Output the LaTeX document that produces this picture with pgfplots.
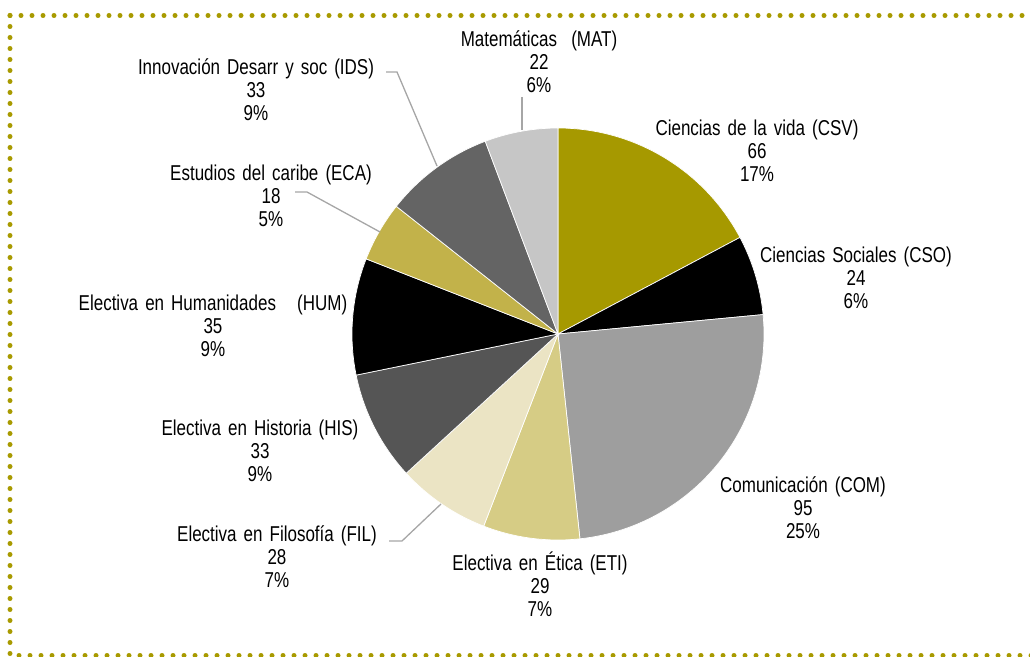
\documentclass[border=0pt]{standalone}
\usepackage{fontspec}
\setmainfont{Liberation Sans}[FakeStretch=0.79, WordSpace=1.5]
\usepackage{pgfplots}
\pgfplotsset{compat=1.18}

\definecolor{c0}{HTML}{A69900}
\definecolor{c1}{HTML}{000000}
\definecolor{c2}{HTML}{9E9E9E}
\definecolor{c3}{HTML}{D6CC85}
\definecolor{c4}{HTML}{EBE4C4}
\definecolor{c5}{HTML}{555555}
\definecolor{c6}{HTML}{000000}
\definecolor{c7}{HTML}{C2B24A}
\definecolor{c8}{HTML}{646464}
\definecolor{c9}{HTML}{C6C6C6}
\definecolor{frame}{HTML}{A89A00}
\definecolor{leader}{HTML}{A6A6A6}

% values: CSV, CSO, COM, ETI, FIL, HIS, HUM, ECA, IDS, MAT
\def\vals{66,24,95,29,28,33,35,18,33,22}
\gdef\total{0}%
\foreach \v in \vals {\pgfmathsetmacro\newt{\total+\v}\global\let\total\newt}%
\pgfmathsetmacro\degper{360/\total}%
\gdef\cum{0}%
\foreach \v [count=\i from 0] in \vals {%
  \pgfmathsetmacro\sa{90-\cum*\degper}%
  \pgfmathsetmacro\newc{\cum+\v}%
  \pgfmathsetmacro\ea{90-\newc*\degper}%
  \expandafter\xdef\csname sa\i\endcsname{\sa}%
  \expandafter\xdef\csname ea\i\endcsname{\ea}%
  \global\let\cum\newc
}%

\begin{document}%
\begin{tikzpicture}
\path[use as bounding box] (0,0) rectangle (1030pt,656pt);
\begin{axis}[
  at={(0,0)}, anchor=south west,
  width=1030pt, height=656pt, scale only axis,
  xmin=0, xmax=1030, ymin=0, ymax=656,
  hide axis, clip=false,
]
\pgfplotsinvokeforeach{0,...,9}{
  \addplot[fill=c#1, draw=white, line width=0.7pt, domain=0:1, samples=60]
    ({558+206*cos(\csname sa#1\endcsname+(\csname ea#1\endcsname-\csname sa#1\endcsname)*x)},
     {322+206*sin(\csname sa#1\endcsname+(\csname ea#1\endcsname-\csname sa#1\endcsname)*x)})
    -- (axis cs:558,322) -- cycle;
}
% leader lines
\draw[leader, line width=1.3pt] (axis cs:386,584) -- (axis cs:397,584) -- (axis cs:437,490);
\draw[leader, line width=1.3pt] (axis cs:522,559) -- (axis cs:522,526);
\draw[leader, line width=1.3pt] (axis cs:295,464) -- (axis cs:307,464) -- (axis cs:380,424);
\draw[leader, line width=1.3pt] (axis cs:389,115) -- (axis cs:402,115) -- (axis cs:441,152);
% labels
\tikzset{lab/.style={align=center, anchor=center, inner sep=0pt, font=\fontsize{21.5}{23}\selectfont}}
\node[lab] at (axis cs:539,594) {Matemáticas\ \ (MAT)\\22\\6\%};
\node[lab] at (axis cs:757,505) {Ciencias de la vida (CSV)\\66\\17\%};
\node[lab] at (axis cs:856,378) {Ciencias Sociales (CSO)\\24\\6\%};
\node[lab] at (axis cs:803,148) {Comunicación (COM)\\95\\25\%};
\node[lab] at (axis cs:540,72) {Electiva en Ética (ETI)\\29\\7\%};
\node[lab] at (axis cs:277,99) {Electiva en Filosofía (FIL)\\28\\7\%};
\node[lab] at (axis cs:260,205) {Electiva en Historia (HIS)\\33\\9\%};
\node[lab] at (axis cs:213,330) {Electiva en Humanidades\ \ \ (HUM)\\35\\9\%};
\node[lab] at (axis cs:271,460) {Estudios del caribe (ECA)\\18\\5\%};
\node[lab] at (axis cs:256,566) {Innovación Desarr y soc (IDS)\\33\\9\%};
% dotted frame
\draw[frame, line width=5pt, line cap=round, dash pattern=on 0pt off 11pt] (axis cs:10,640.5) -- (axis cs:1045,640.5);
\draw[frame, line width=5pt, line cap=round, dash pattern=on 0pt off 11pt] (axis cs:10,640.5) -- (axis cs:10,0.5) -- (axis cs:1045,0.5);
\end{axis}
\end{tikzpicture}%
\end{document}
